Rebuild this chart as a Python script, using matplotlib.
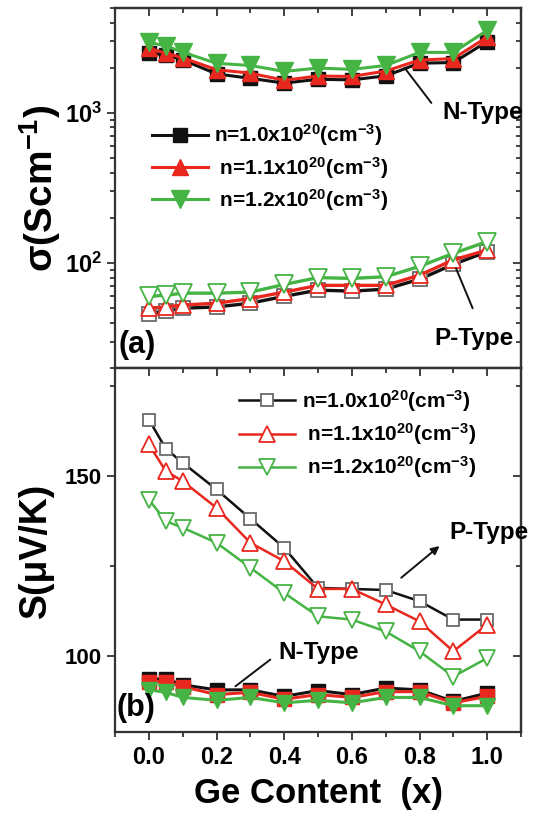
"""
Ge 함량에 따른 전기전도도(a) / 제벡계수(b) 두 패널 그림
"""

import matplotlib
matplotlib.use("Agg")
import matplotlib.pyplot as plt
from matplotlib.ticker import FixedLocator, MultipleLocator, NullFormatter

# ---- data ----
ge_x = [0.0, 0.05, 0.1, 0.2, 0.3, 0.4, 0.5, 0.6, 0.7, 0.8, 0.9, 1.0]
labels = ["n=1.0x10$^{20}$(cm$^{-3}$)", " n=1.1x10$^{20}$(cm$^{-3}$)", " n=1.2x10$^{20}$(cm$^{-3}$)"]

# (a) conductivity, S/cm
sigma_n_10 = [2500, 2440, 2255, 1820, 1700, 1580, 1675, 1660, 1765, 2145, 2165, 2985]
sigma_n_11 = [2700, 2500, 2330, 1940, 1840, 1650, 1760, 1750, 1900, 2250, 2300, 3200]
sigma_n_12 = [2950, 2800, 2540, 2140, 2070, 1890, 1990, 1950, 2070, 2530, 2530, 3550]
sigma_p_10 = [46, 48, 50, 51, 54, 60, 66, 65, 67, 78, 98, 119]
sigma_p_11 = [50, 51, 52.5, 54, 58, 64, 71, 71, 71, 83, 105, 122]
sigma_p_12 = [60, 61, 63, 63, 64, 72, 80, 79, 81, 95, 116, 139]

# (b) Seebeck, uV/K
seebeck_p_10 = [165.7, 157.6, 153.7, 146.3, 138.2, 130.1, 119.0, 118.7, 118.4, 115.3, 110.2, 110.2]
seebeck_p_11 = [158.8, 151.4, 148.6, 141.2, 131.5, 126.4, 118.7, 118.7, 114.4, 109.7, 101.4, 108.8]
seebeck_p_12 = [143.5, 137.5, 135.7, 131.5, 124.6, 117.6, 111.1, 110.2, 106.9, 101.4, 94.4, 99.5]
seebeck_n_10 = [93.7, 93.7, 92.1, 90.7, 90.7, 88.9, 90.5, 89.4, 91.2, 90.7, 87.5, 89.8]
seebeck_n_11 = [93.0, 93.0, 91.6, 89.4, 90.0, 88.1, 89.4, 88.6, 90.2, 90.2, 87.1, 88.9]
seebeck_n_12 = [90.7, 90.0, 88.6, 87.8, 88.6, 87.1, 87.8, 87.1, 88.6, 88.6, 86.3, 86.3]

BLACK = "#111111"
RED = "#e8281f"
GREEN = "#45b445"
GRAY_EDGE = "#6a6a6a"

FONT = "Liberation Sans"
plt.rcParams["font.family"] = [FONT, "DejaVu Sans"]
plt.rcParams["font.weight"] = "bold"
plt.rcParams["mathtext.fontset"] = "custom"
plt.rcParams["mathtext.rm"] = FONT + ":bold"
plt.rcParams["mathtext.bf"] = FONT + ":bold"
plt.rcParams["mathtext.it"] = FONT + ":bold"
plt.rcParams["mathtext.default"] = "bf"


def tick_look(a):
    a.tick_params(which="both", width=1.3, colors="#333333", labelcolor="black")
    a.tick_params(which="major", length=6)
    a.tick_params(which="minor", length=3.5)


def style_axes(ax, y_major, y_minor, bottom_labels):
    for sp in ax.spines.values():
        sp.set_linewidth(1.6)
        sp.set_color("#333333")
    ax.set_xlim(-0.1, 1.1)
    ax.xaxis.set_major_locator(MultipleLocator(0.2))
    ax.xaxis.set_minor_locator(MultipleLocator(0.1))
    ax.yaxis.set_major_locator(y_major)
    ax.yaxis.set_minor_locator(y_minor)
    ax.yaxis.set_minor_formatter(NullFormatter())
    tick_look(ax)
    ax.tick_params(axis="y", which="both", direction="out", left=True, right=False)

    # right-hand ticks point inward, no labels
    right = ax.secondary_yaxis("right")
    right.yaxis.set_major_locator(y_major)
    right.yaxis.set_minor_locator(y_minor)
    right.yaxis.set_major_formatter(NullFormatter())
    right.yaxis.set_minor_formatter(NullFormatter())
    tick_look(right)
    right.tick_params(which="both", direction="in")
    right.spines["right"].set_linewidth(1.6)
    right.spines["right"].set_color("#333333")

    # top ticks point inward
    top = ax.secondary_xaxis("top")
    top.xaxis.set_major_locator(MultipleLocator(0.2))
    top.xaxis.set_minor_locator(MultipleLocator(0.1))
    top.xaxis.set_major_formatter(NullFormatter())
    tick_look(top)
    top.tick_params(which="both", direction="in")
    top.spines["top"].set_linewidth(1.6)
    top.spines["top"].set_color("#333333")

    if bottom_labels:
        ax.tick_params(axis="x", which="both", direction="out", bottom=True, top=False)
    else:
        ax.tick_params(axis="x", which="both", bottom=False, top=False, labelbottom=False)


def note(ax, text, xy, xytext, tx, ty, head=False):
    ax.annotate("", xy=xy, xytext=xytext,
                arrowprops=dict(arrowstyle="-|>" if head else "-", color="#111111", lw=1.4,
                                mutation_scale=12, shrinkA=0, shrinkB=0))
    ax.text(tx, ty, text, fontsize=17.5, fontweight="bold", ha="left", va="center")


def main():
    fig = plt.figure(figsize=(5.39, 8.15), dpi=100)
    fig.patch.set_facecolor("white")
    ax1 = fig.add_axes([0.2134, 0.5485, 0.7532, 0.4417])
    ax2 = fig.add_axes([0.2134, 0.1018, 0.7532, 0.4467])

    # ---------- (a) ----------
    ax1.set_yscale("log")
    h1 = ax1.plot(ge_x, sigma_n_10, color=BLACK, lw=2.2, marker="s", ms=10, mfc=BLACK, mec=BLACK)[0]
    h2 = ax1.plot(ge_x, sigma_n_11, color=RED, lw=2.2, marker="^", ms=12, mfc=RED, mec=RED)[0]
    h3 = ax1.plot(ge_x, sigma_n_12, color=GREEN, lw=2.2, marker="v", ms=13, mfc=GREEN, mec=GREEN)[0]
    ax1.plot(ge_x, sigma_p_10, color=BLACK, lw=2.4, marker="s", ms=9.5, mfc="white", mec=GRAY_EDGE, mew=1.3)
    ax1.plot(ge_x, sigma_p_11, color=RED, lw=2.4, marker="^", ms=12, mfc="white", mec=RED, mew=1.3)
    ax1.plot(ge_x, sigma_p_12, color=GREEN, lw=2.4, marker="v", ms=13, mfc="white", mec=GREEN, mew=1.3)
    ax1.set_ylim(20, 5000)
    style_axes(ax1, FixedLocator([100, 1000]),
               FixedLocator([m * d for d in (10, 100, 1000) for m in range(2, 10)]), False)
    ax1.set_yticks([100, 1000])
    ax1.set_yticklabels(["10$^{2}$", "10$^{3}$"], fontsize=17)
    ax1.set_ylabel("σ(Scm$^{-1}$)", fontsize=28, fontweight="bold", labelpad=1)
    ax1.legend([h1, h2, h3], labels, loc="upper left", bbox_to_anchor=(0.07, 0.705),
               frameon=False, fontsize=15, handlelength=2.7, handletextpad=0.3,
               labelspacing=0.3, borderaxespad=0)
    ax1.text(-0.09, 28.4, "(a)", fontsize=22, fontweight="bold", ha="left", va="center")
    note(ax1, "N-Type", (0.756, 1995), (0.835, 1166), 0.868, 1000)
    note(ax1, "P-Type", (0.908, 92), (0.957, 50), 0.844, 31.6)

    # ---------- (b) ----------
    ax2.plot(ge_x, seebeck_n_10, color=BLACK, lw=2.2, marker="s", ms=9.5, mfc=BLACK, mec=BLACK)
    ax2.plot(ge_x, seebeck_n_11, color=RED, lw=2.2, marker="s", ms=9.5, mfc=RED, mec=RED)
    ax2.plot(ge_x, seebeck_n_12, color=GREEN, lw=2.2, marker="v", ms=12, mfc=GREEN, mec=GREEN)
    g1 = ax2.plot(ge_x, seebeck_p_10, color=BLACK, lw=1.8, marker="s", ms=9, mfc="white", mec=GRAY_EDGE, mew=1.3)[0]
    g2 = ax2.plot(ge_x, seebeck_p_11, color=RED, lw=1.8, marker="^", ms=12, mfc="white", mec=RED, mew=1.3)[0]
    g3 = ax2.plot(ge_x, seebeck_p_12, color=GREEN, lw=1.8, marker="v", ms=12, mfc="white", mec=GREEN, mew=1.3)[0]
    ax2.set_ylim(79, 180)
    style_axes(ax2, MultipleLocator(50), MultipleLocator(25), True)
    ax2.tick_params(axis="y", which="major", labelsize=16)
    ax2.tick_params(axis="x", which="major", labelsize=17, pad=4)
    ax2.set_xticks([0.0, 0.2, 0.4, 0.6, 0.8, 1.0])
    ax2.set_xticklabels(["0.0", "0.2", "0.4", "0.6", "0.8", "1.0"])
    ax2.set_ylabel("S(μV/K)", fontsize=27, fontweight="bold", labelpad=8)
    ax2.set_xlabel("Ge Content  (x)", fontsize=25, fontweight="bold", labelpad=6)
    ax2.legend([g1, g2, g3], labels, loc="upper left", bbox_to_anchor=(0.285, 0.968),
               frameon=False, fontsize=15, handlelength=2.7, handletextpad=0.3,
               labelspacing=0.35, borderaxespad=0)
    ax2.text(-0.097, 85.8, "(b)", fontsize=22, fontweight="bold", ha="left", va="center")
    note(ax2, "P-Type", (0.859, 130.6), (0.746, 121.8), 0.888, 134.4, head=True)
    note(ax2, "N-Type", (0.359, 99.1), (0.256, 91.7), 0.382, 101)

    fig.savefig("out.png", dpi=100)
    plt.close(fig)


if __name__ == "__main__":
    main()
